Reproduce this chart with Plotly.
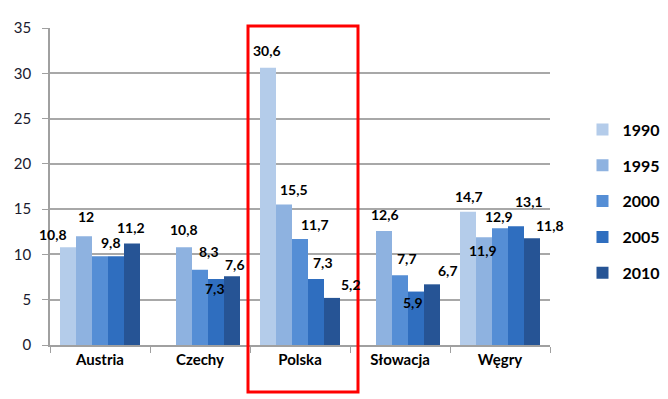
import plotly.graph_objects as go

countries = ["Austria", "Czechy", "Polska", "Słowacja", "Węgry"]
years = ["1990", "1995", "2000", "2005", "2010"]
v1990 = [10.8, None, 30.6, None, 14.7]
v1995 = [12.0, 10.8, 15.5, 12.6, 11.9]
v2000 = [9.8, 8.3, 11.7, 7.7, 12.9]
v2005 = [9.8, 7.3, 7.3, 5.9, 13.1]
v2010 = [11.2, 7.6, 5.2, 6.7, 11.8]
series = [v1990, v1995, v2000, v2005, v2010]
colors = ["#B4CCEA", "#8EB2E0", "#558ED5", "#2F6EBF", "#265495"]

# label placement styling (pixel nudges from bar top), None = label not shown
label_dx = [
    [-15, None, -1, None, 1],
    [2, 0, 10, 1, -1],
    [11, 9, 15, 7, -1],
    [None, -1, 7, -3, 13],
    [-1, 3, 19, 16, 18],
]
label_dy = [
    [13, None, 17, None, 15],
    [20, 18, 15, 16, -13],
    [14, 18, 15, 17, 12],
    [None, -10, 16, -11, 25],
    [16, 12, 13, 14, 13],
]
BAR_PX = 16


def fmt(v):
    s = ("%.1f" % v).rstrip("0").rstrip(".")
    return s.replace(".", ",")


fig = go.Figure()
annotations = []
for i, (yr, vals, col) in enumerate(zip(years, series, colors)):
    fig.add_trace(go.Bar(
        name=yr, x=countries, y=vals,
        marker=dict(color=col, line=dict(width=0)),
        legendgroup=yr,
    ))
    for j, (c, v) in enumerate(zip(countries, vals)):
        if v is None or label_dx[i][j] is None:
            continue
        annotations.append(dict(
            x=c, y=v, xref="x", yref="y", text=fmt(v), showarrow=False,
            xanchor="center", yanchor="middle",
            xshift=(i - 2) * BAR_PX + label_dx[i][j], yshift=label_dy[i][j],
            font=dict(family="Lato", size=14, color="black", weight="bold"),
        ))

fig.update_layout(
    width=668, height=399,
    margin=dict(l=50, r=118, t=28, b=54, autoexpand=False),
    paper_bgcolor="white", plot_bgcolor="white",
    barmode="group", bargap=0.2, bargroupgap=0,
    font=dict(family="Lato", size=15, color="black"),
    legend=dict(xref="container", yref="container", x=0.872, y=0.496,
                yanchor="middle", xanchor="left",
                font=dict(family="Lato", size=16, color="black", weight="bold"),
                tracegroupgap=12, itemwidth=30),
    showlegend=True,
    annotations=annotations,
    xaxis=dict(range=[-0.5, 4.5], autorange=False,
               showline=True, linecolor="#A0A0A0", linewidth=1.5,
               ticks="outside", tickson="boundaries", ticklen=6, tickcolor="#A0A0A0",
               tickfont=dict(family="Lato", size=15, color="black", weight="bold")),
    yaxis=dict(range=[0, 35], dtick=5, showline=True, linecolor="#A0A0A0", linewidth=1.5,
               ticks="outside", ticklen=6, tickcolor="#A0A0A0", ticklabelstandoff=8,
               gridcolor="#A8A8A8", gridwidth=1.5, zeroline=False,
               tickfont=dict(family="Lato", size=15, color="#1a1a2e")),
    shapes=[dict(type="rect", xref="paper", yref="paper",
                 x0=0.396, x1=0.616, y0=-0.148, y1=1.006,
                 line=dict(color="#FF0000", width=3))],
)

fig.write_html("out.html", post_script="document.body.style.margin='0';",
               config={"displayModeBar": False})
